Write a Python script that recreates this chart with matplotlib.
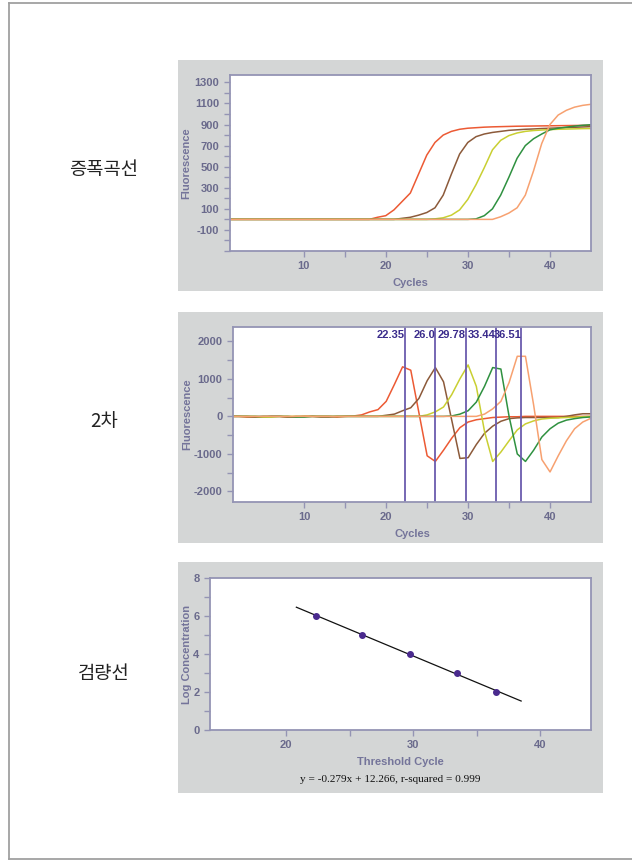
import numpy as np
import matplotlib
matplotlib.use("Agg")
import matplotlib.pyplot as plt
from matplotlib.patches import Rectangle
from matplotlib.lines import Line2D
from matplotlib.ticker import MultipleLocator

# ---- data ----
cycles = list(range(1, 46))

# amplification curves (fluorescence per cycle)
amp_red = [0]*18 + [20, 35, 90, 170, 250, 430, 610, 730, 800, 835, 855, 865, 870, 875, 878,
                    880, 882, 884, 885, 886, 887, 888, 889, 890, 891, 892, 892]
amp_brown = [0]*21 + [10, 20, 40, 65, 110, 230, 430, 620, 730, 785, 810, 825, 835, 845, 850,
                      855, 858, 862, 865, 868, 871, 874, 877, 880]
amp_yellow = [0]*25 + [5, 15, 40, 90, 190, 330, 490, 660, 750, 795, 820, 835, 843, 848, 852,
                       855, 857, 859, 861, 862]
amp_green = [0]*30 + [5, 35, 100, 230, 400, 580, 700, 765, 810, 850, 865, 875, 885, 893, 898]
amp_orange = [0]*33 + [25, 60, 110, 230, 460, 720, 900, 990, 1035, 1065, 1082, 1092]

# second derivative curves
d2_red = [0, 0, -20, -20, 0, 0, 0, -20, -20, 0, 0, 0, 0, -20, 0, 10, 40, 120, 180, 400, 850,
          1320, 1230, 90, -1050, -1200, -900, -580, -300, -150, -90, -60, -30, -20,
          -10, -10, 0, 0, 0, 0, 0, 0, 0, 0, 0]
d2_brown = [0, 0, 0, -20, -20, 0, 0, -20, 0, 0, 0, -20, -20, 0, 0, 0, 0, 0, 0, 30, 60, 150,
            230, 480, 950, 1300, 920, -100, -1120, -1100, -750, -450, -260, -130, -60, -40,
            -30, -30, -30, -30, -30, 0, 40, 70, 70]
d2_yellow = [0, 0, 0, 0, -20, -20, 0, 0, 0, 0, 0, 0, 0, 0, 0, 0, 0, 0, 0, 0, 0, 0, 0, 0, 40,
             120, 250, 580, 1000, 1370, 800, -400, -1200, -950, -650, -360, -200, -120, -70,
             -50, -40, -30, -20, -10, 0]
d2_green = [0, 0, 0, 0, 0, 0, 0, 0, -20, -20, 0, 0, 0, 0, 0, 0, 0, 0, 0, 0, 0, 0, 0, 0, 0,
            0, 0, 10, 60, 150, 380, 800, 1300, 1260, 0, -1000, -1200, -900, -550, -330, -180,
            -100, -60, -30, -15]
d2_orange = [0]*31 + [60, 200, 400, 900, 1600, 1600, 300, -1150, -1480, -1050, -650, -330,
                      -150, -50]

thresholds = [22.35, 26.0, 29.78, 33.44, 36.51]
threshold_labels = ["22.35", "26.0", "29.78", "33.44", "36.51"]

# standard curve
log_conc = [6, 5, 4, 3, 2]
slope, intercept, r2 = -0.279, 12.266, 0.999
fit_x = [20.8, 38.5]

colors = ["#ec5a34", "#8c5a3a", "#c9cf32", "#2f9140", "#f7a170"]

tick_col = "#6a6a8c"
lab_col = "#74749a"
spine_col = "#9494b4"
panel_bg = "#d4d6d6"

plt.rcParams['font.family'] = ['Liberation Sans', 'DejaVu Sans']
plt.rcParams['axes.unicode_minus'] = False

W, H = 632, 861
fig = plt.figure(figsize=(W/100, H/100), dpi=100)

# page border
fig.add_artist(Line2D([9/W, 9/W], [1-3/H, 1-859/H], color="#a0a0a0", lw=1.3))
fig.add_artist(Line2D([9/W, 1], [1-3/H, 1-3/H], color="#a0a0a0", lw=1.3))
fig.add_artist(Line2D([9/W, 1], [1-859/H, 1-859/H], color="#a0a0a0", lw=1.3))


def px_rect(x0, y0, x1, y1):
    return [x0/W, 1-y1/H, (x1-x0)/W, (y1-y0)/H]


for y0, y1 in [(60, 291), (312, 543), (562, 793)]:
    r = px_rect(178, y0, 603, y1)
    fig.add_artist(Rectangle((r[0], r[1]), r[2], r[3], transform=fig.transFigure,
                             facecolor=panel_bg, edgecolor="none", zorder=0))


def style(ax):
    for s in ax.spines.values():
        s.set_color(spine_col)
        s.set_linewidth(1.3)
    ax.tick_params(which="both", direction="out", color=spine_col, labelcolor=tick_col,
                   labelsize=8, width=1)
    ax.tick_params(which="major", length=4)
    ax.tick_params(which="minor", length=4)
    for t in ax.get_xticklabels() + ax.get_yticklabels():
        t.set_fontweight("bold")


# ---- panel 1: amplification ----
ax1 = fig.add_axes(px_rect(229.7, 75, 591, 251))
for ys, c in zip([amp_red, amp_brown, amp_yellow, amp_green, amp_orange], colors):
    ax1.plot(cycles, ys, color=c, lw=1.1)
ax1.set_xlim(1, 45)
ax1.set_ylim(-300, 1370)
ax1.set_xticks([10, 20, 30, 40])
ax1.set_xticks([15, 25, 35], minor=True)
ax1.set_yticks(list(range(-100, 1301, 200)))
ax1.yaxis.set_minor_locator(MultipleLocator(100))
style(ax1)
ax1.set_ylabel("Fluorescence", color=lab_col, fontsize=8, fontweight="bold")
ax1.set_xlabel("Cycles", color=lab_col, fontsize=8, fontweight="bold")
ax1.yaxis.set_label_coords(-0.107, 0.5)
ax1.xaxis.set_label_coords(0.5, -0.153)

# ---- panel 2: second derivative ----
ax2 = fig.add_axes(px_rect(233, 327, 591, 502))
for ys, c in zip([d2_red, d2_brown, d2_yellow, d2_green, d2_orange], colors):
    ax2.plot(cycles, ys, color=c, lw=1.1)
for t, lab in zip(thresholds, threshold_labels):
    ax2.axvline(t, color="#6b5cae", lw=1.3)
    ax2.text(t - 0.05, 0.955, lab, transform=ax2.get_xaxis_transform(), ha="right",
             va="center", color="#3b2c8c", fontsize=8, fontweight="bold")
ax2.set_xlim(1.3, 45)
ax2.set_ylim(-2280, 2380)
ax2.set_xticks([10, 20, 30, 40])
ax2.set_xticks([15, 25, 35], minor=True)
ax2.set_yticks([-2000, -1000, 0, 1000, 2000])
ax2.yaxis.set_minor_locator(MultipleLocator(500))
style(ax2)
ax2.set_ylabel("Fluorescence", color=lab_col, fontsize=8, fontweight="bold")
ax2.set_xlabel("Cycles", color=lab_col, fontsize=8, fontweight="bold")
ax2.yaxis.set_label_coords(-0.115, 0.5)
ax2.xaxis.set_label_coords(0.5, -0.154)

# ---- panel 3: standard curve ----
ax3 = fig.add_axes(px_rect(210, 578, 591, 730))
fx = np.array(fit_x)
ax3.plot(fx, slope*fx + intercept, color="#111111", lw=0.9)
ax3.plot(thresholds, log_conc, "o", color="#4a2a8e", ms=4)
ax3.set_xlim(14, 44)
ax3.set_ylim(0, 8)
ax3.set_xticks([20, 30, 40])
ax3.set_xticks([25, 35], minor=True)
ax3.set_yticks([0, 2, 4, 6, 8])
ax3.yaxis.set_minor_locator(MultipleLocator(1))
style(ax3)
ax3.set_ylabel("Log Concentration", color=lab_col, fontsize=8, fontweight="bold")
ax3.set_xlabel("Threshold Cycle", color=lab_col, fontsize=8, fontweight="bold")
ax3.yaxis.set_label_coords(-0.047, 0.5)
ax3.xaxis.set_label_coords(0.5, -0.178)
fig.text(390/W, 1-780/H, f"y = {slope}x + {intercept}, r-squared = {r2}",
         ha="center", va="center", fontsize=8.1, family="Liberation Serif", color="#111111")

# ---- row labels ----
for txt, y in [("증폭곡선", 170), ("2차", 422), ("검량선", 673)]:
    fig.text(104/W, 1-y/H, txt, ha="center", va="center", fontsize=13.5,
             family=["Noto Sans CJK KR", "DejaVu Sans"], color="#222222")

fig.savefig("out.png", dpi=100)
